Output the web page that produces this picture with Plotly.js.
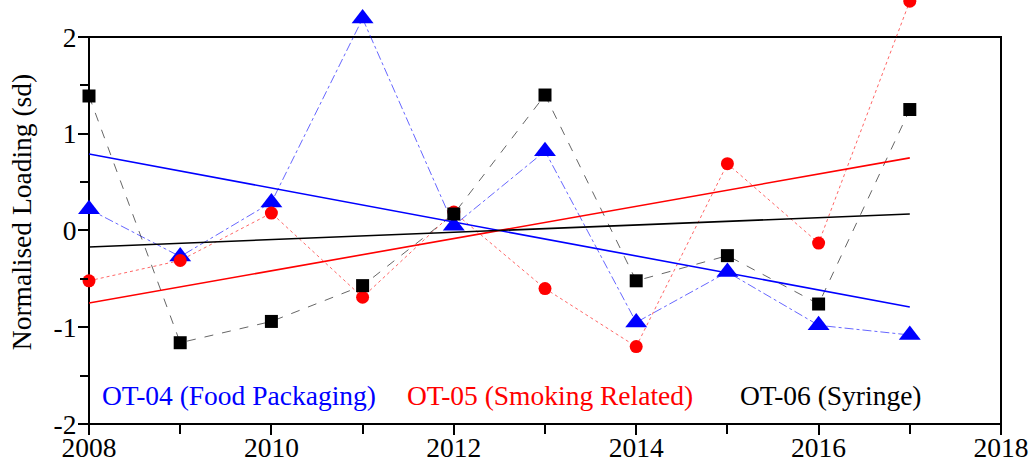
<!DOCTYPE html>
<html>
<head>
<meta charset="utf-8">
<script src="https://cdn.plot.ly/plotly-3.0.1.min.js"></script>
<style>html,body{margin:0;padding:0;background:#fff;}#chart{width:1032px;height:462px;}</style>
</head>
<body>
<div id="chart"></div>
<script>
var years = [2008, 2009, 2010, 2011, 2012, 2013, 2014, 2015, 2016, 2017];
var ot04 = [0.22, -0.27, 0.29, 2.19, 0.05, 0.82, -0.95, -0.43, -0.98, -1.08];
var ot05 = [-0.52, -0.31, 0.18, -0.69, 0.19, -0.60, -1.20, 0.69, -0.13, 2.37];
var ot06 = [1.39, -1.16, -0.94, -0.57, 0.17, 1.40, -0.52, -0.26, -0.76, 1.25];
var trendYears = [2008, 2017];
var trend04 = [0.79, -0.79];
var trend05 = [-0.75, 0.75];
var trend06 = [-0.17, 0.17];
var seriesNames = ['OT-04 (Food Packaging)', 'OT-05 (Smoking Related)', 'OT-06 (Syringe)'];
var xTickVals = [2008, 2010, 2012, 2014, 2016, 2018];
var yTickVals = [-2, -1, 0, 1, 2];

var FONT = '"Liberation Serif", "Times New Roman", Times, serif';
var FS = 27.5;
var yMin = -2, yFrameTop = 2, yMax = 2.382;
var frameTopPaper = (yFrameTop - yMin) / (yMax - yMin);

var traces = [
  {x: years, y: ot04, mode: 'lines', line: {color: 'rgba(0,0,255,0.6)', width: 1, dash: 'dashdot'}, cliponaxis: false, hoverinfo: 'skip'},
  {x: years, y: ot05, mode: 'lines', line: {color: 'rgba(255,0,0,0.6)', width: 1, dash: 'dot'}, cliponaxis: false, hoverinfo: 'skip'},
  {x: years, y: ot06, mode: 'lines', line: {color: 'rgba(0,0,0,0.6)', width: 1, dash: 'dash'}, cliponaxis: false, hoverinfo: 'skip'},
  {x: years, y: ot04, mode: 'markers', name: seriesNames[0], marker: {symbol: 'triangle-up', size: 19, color: '#0000ff'}, cliponaxis: false},
  {x: years, y: ot05, mode: 'markers', name: seriesNames[1], marker: {symbol: 'circle', size: 13, color: '#ff0000'}, cliponaxis: false},
  {x: years, y: ot06, mode: 'markers', name: seriesNames[2], marker: {symbol: 'square', size: 13, color: '#000000'}, cliponaxis: false},
  {x: trendYears, y: trend04, mode: 'lines', line: {color: '#0000ff', width: 1.6}},
  {x: trendYears, y: trend05, mode: 'lines', line: {color: '#ff0000', width: 1.6}},
  {x: trendYears, y: trend06, mode: 'lines', line: {color: '#000000', width: 1.6}}
];

var layout = {
  width: 1032, height: 462,
  margin: {l: 89, r: 31, t: 0, b: 38},
  paper_bgcolor: '#ffffff', plot_bgcolor: 'rgba(0,0,0,0)',
  showlegend: false,
  font: {family: FONT, size: FS, color: '#000'},
  xaxis: {
    range: [2008, 2018], tickvals: xTickVals, ticktext: xTickVals.map(String),
    showgrid: false, zeroline: false, showline: false,
    ticks: 'outside', ticklen: 10, tickwidth: 2, tickcolor: '#000',
    minor: {dtick: 1, tick0: 2008, ticks: 'outside', ticklen: 9, tickwidth: 2, tickcolor: '#000', showgrid: false},
    tickfont: {family: FONT, size: FS, color: '#000'},
    ticklabelstandoff: -11
  },
  yaxis: {
    range: [yMin, yMax], tickvals: yTickVals, ticktext: yTickVals.map(String),
    showgrid: false, zeroline: false, showline: false,
    ticks: 'outside', ticklen: 10, tickwidth: 2, tickcolor: '#000',
    minor: {dtick: 0.5, tick0: 0, ticks: 'outside', ticklen: 8, tickwidth: 2, tickcolor: '#000', showgrid: false},
    tickfont: {family: FONT, size: FS, color: '#000'},
    ticklabelstandoff: -4,
    title: {text: 'Normalised Loading (sd)', font: {family: FONT, size: FS, color: '#000'}, standoff: 13}
  },
  shapes: [
    {type: 'rect', xref: 'paper', yref: 'paper', x0: 0, x1: 1, y0: 0, y1: frameTopPaper, line: {color: '#000', width: 2}, layer: 'below'}
  ],
  annotations: [
    {text: seriesNames[0], x: 2008.12, y: -1.71, xref: 'x', yref: 'y', xanchor: 'left', yanchor: 'middle', showarrow: false, font: {family: FONT, size: FS, color: '#0000ff'}},
    {text: seriesNames[1], x: 2011.46, y: -1.71, xref: 'x', yref: 'y', xanchor: 'left', yanchor: 'middle', showarrow: false, font: {family: FONT, size: FS, color: '#ff0000'}},
    {text: seriesNames[2], x: 2015.12, y: -1.71, xref: 'x', yref: 'y', xanchor: 'left', yanchor: 'middle', showarrow: false, font: {family: FONT, size: FS, color: '#000000'}}
  ]
};

Plotly.newPlot('chart', traces, layout, {displayModeBar: false, staticPlot: true});
</script>
</body>
</html>
